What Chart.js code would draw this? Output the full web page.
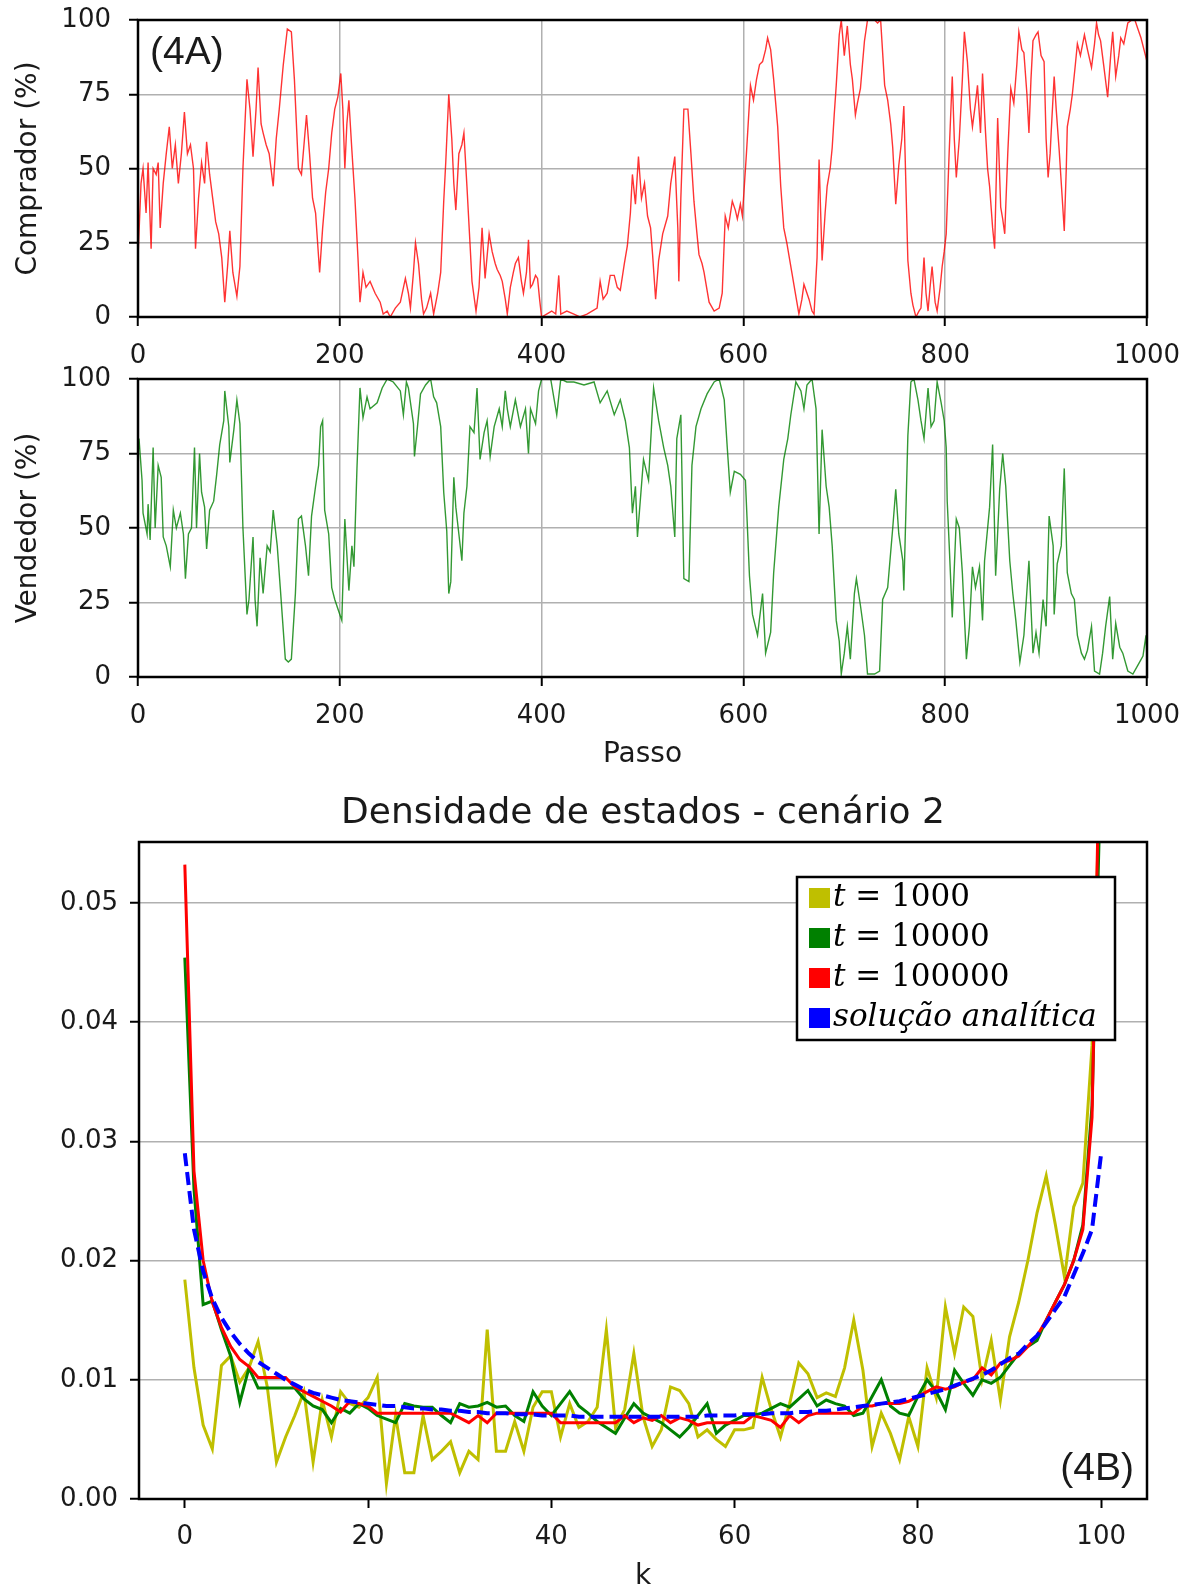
<!DOCTYPE html>
<html>
<head>
<meta charset="utf-8">
<script src="https://cdn.jsdelivr.net/npm/chart.js@4.4.0/dist/chart.umd.min.js"></script>
<style>
  body { margin: 0; background: #fff; width: 1192px; height: 1591px; position: relative; overflow: hidden; }
  canvas { position: absolute; left: 0; }
</style>
</head>
<body>
<canvas id="comprador" width="1192" height="370" style="top:0px"></canvas>
<canvas id="vendedor" width="1192" height="420" style="top:360px"></canvas>
<canvas id="densidade" width="1192" height="811" style="top:780px"></canvas>
<script>
// ---- dados ----
const passoTicks = [0, 200, 400, 600, 800, 1000];
const pctTicks = [0, 25, 50, 75, 100];
const kTicks = [0, 20, 40, 60, 80, 100];
const densTicks = [0, 0.01, 0.02, 0.03, 0.04, 0.05];

const compradorPasso = [0,3,5,8,10,13,15,18,20,22,25,28,31,34,37,40,43,46,49,52,55,57,60,63,66,68,71,74,77,80,83,86,89,91,94,98,101,104,108,111,114,117,119,122,124,127,130,134,137,140,144,148,152,155,159,162,165,167,170,173,176,178,180,183,186,189,192,195,198,201,203,205,207,209,212,215,218,220,223,226,230,235,240,243,247,250,255,260,265,268,270,273,275,278,281,283,286,290,293,297,300,303,305,308,311,313,315,318,321,323,326,329,331,335,338,341,344,348,351,354,356,359,361,364,366,369,372,374,377,380,382,385,387,389,391,394,396,398,400,405,410,414,417,419,425,432,438,445,450,455,458,461,465,468,472,475,478,482,485,488,490,493,496,499,502,505,508,510,513,516,520,525,528,532,535,536,538,541,545,548,551,554,556,559,561,566,571,576,579,582,585,589,592,594,597,599,603,607,610,613,616,619,622,624,627,630,634,637,640,643,645,648,650,653,655,658,660,663,665,668,670,673,675,678,681,683,686,688,690,692,695,697,700,703,706,708,711,713,716,718,720,723,727,730,733,736,740,743,746,748,751,754,757,759,761,763,766,768,771,774,776,779,781,783,785,787,790,792,795,797,799,801,804,807,809,811,814,817,819,822,825,827,830,832,835,837,840,842,844,847,849,852,855,857,859,862,865,868,871,873,876,878,881,883,885,887,890,892,895,898,900,902,904,905,908,910,913,916,918,920,921,924,926,929,931,934,938,941,945,948,950,952,954,957,961,964,966,969,972,974,977,981,985,988,991,994,997,1000];
const compradorPct = [20,45,50,35,52,23,50,48,52,30,45,55,64,50,58,45,55,69,55,58,50,23,40,52,45,59,48,40,32,28,20,5,18,29,15,7,17,50,80,70,54,70,84,65,62,58,55,44,60,70,85,97,96,80,50,48,60,68,55,40,35,25,15,30,42,50,62,70,74,82,70,50,65,73,56,40,20,5,15,10,12,8,5,1,2,0,3,5,13,8,3,15,25,18,6,1,3,8,1,8,15,39,52,75,60,45,36,55,58,62,44,25,12,2,10,30,13,28,22,18,16,14,12,6,1,10,15,18,20,12,8,15,26,10,11,14,13,6,0,1,2,1,14,1,2,1,0,1,2,3,12,6,8,14,14,10,9,18,24,35,48,38,54,40,45,34,30,21,6,19,28,34,45,54,30,12,40,70,70,55,39,28,21,18,15,5,2,3,8,34,30,39,36,33,38,34,55,78,73,80,85,86,90,94,90,80,64,44,30,25,21,15,11,5,1,6,11,8,6,2,1,20,53,19,35,44,50,57,68,78,95,100,88,98,85,80,68,72,77,85,93,100,100,100,99,100,78,73,65,57,38,51,60,71,45,19,8,4,0,2,3,20,8,2,10,17,5,2,10,17,22,28,56,81,60,47,60,80,96,86,70,64,72,78,62,82,62,50,44,30,23,67,37,33,28,55,77,72,85,96,90,89,75,62,80,93,95,96,88,86,60,47,55,62,81,70,56,40,29,50,64,70,75,85,92,88,95,90,84,92,99,95,93,85,74,88,96,81,88,94,92,99,100,100,97,94,90,86];

const vendedorPasso = [0,1,4,5,9,10,12,15,17,20,23,25,28,32,35,38,42,45,47,50,53,56,58,61,63,66,68,71,75,78,81,85,86,90,91,95,98,101,104,108,110,114,116,118,121,124,128,131,134,138,141,146,149,152,156,159,162,166,169,172,176,179,181,183,185,189,192,195,199,202,205,209,212,214,217,220,223,227,230,237,242,247,253,260,263,266,268,273,274,277,280,285,290,293,296,300,303,306,308,310,313,315,318,321,323,326,329,333,336,339,343,346,349,353,358,361,364,366,369,374,379,384,387,389,394,397,400,409,415,419,425,432,442,452,458,465,472,478,483,487,490,493,495,501,506,511,516,521,525,528,532,534,538,541,546,549,553,558,564,571,576,581,584,587,591,597,602,606,609,614,619,622,627,630,635,640,644,647,652,657,660,663,668,672,675,678,682,685,688,692,695,697,700,703,706,710,712,716,720,723,730,735,738,743,748,751,754,758,759,763,766,769,773,776,779,783,786,789,792,796,799,801,802,804,807,811,814,817,821,824,827,830,834,837,839,844,847,850,854,857,860,864,867,870,874,878,883,887,890,893,897,900,903,907,908,911,915,918,921,925,928,931,935,938,941,945,948,953,956,959,963,966,969,973,976,981,986,991,996,999,1000];
const vendedorPct = [75,80,66,55,48,58,46,77,50,71,67,47,44,37,56,50,55,48,33,48,50,77,50,75,62,57,43,56,59,68,78,86,96,84,72,83,93,85,50,21,26,47,26,17,40,28,44,42,56,44,30,6,5,6,28,53,54,44,34,54,64,71,84,86,56,48,30,26,22,19,53,29,44,37,70,97,87,94,90,92,97,100,99,96,88,99,97,85,74,84,95,98,100,94,92,84,62,49,28,32,67,57,48,39,55,64,84,82,97,73,82,86,74,84,90,84,96,90,84,93,84,90,75,90,85,96,100,100,88,100,99,99,98,99,92,96,88,93,86,77,55,64,47,73,66,97,86,77,71,64,47,80,88,33,32,71,84,90,95,99,100,93,77,62,69,68,66,34,21,14,28,8,15,35,57,73,80,88,99,96,90,98,100,90,48,83,64,57,44,19,12,1,8,17,6,28,33,24,14,1,1,2,26,30,50,63,48,39,29,81,99,100,93,86,80,97,84,86,99,92,86,77,59,44,20,53,50,35,6,17,37,30,37,19,39,57,78,34,63,75,64,39,28,19,5,14,39,8,15,8,26,17,54,44,21,38,44,70,35,28,26,14,8,6,9,17,2,1,8,17,27,6,18,10,8,2,1,4,7,14,6];

const kEstados = Array.from({ length: 101 }, (_, k) => k);
const densT1000 = [0.0184,0.0110,0.0062,0.0042,0.0112,0.0120,0.0098,0.0110,0.0132,0.0094,0.0031,0.0052,0.0070,0.0090,0.0031,0.0083,0.0052,0.0090,0.0080,0.0077,0.0085,0.0102,0.0013,0.0070,0.0022,0.0022,0.0070,0.0033,0.0040,0.0048,0.0022,0.0040,0.0033,0.0142,0.0040,0.0040,0.0065,0.0040,0.0077,0.0090,0.0090,0.0052,0.0080,0.0060,0.0065,0.0077,0.0142,0.0060,0.0075,0.0122,0.0069,0.0044,0.0058,0.0094,0.0091,0.0080,0.0052,0.0058,0.0050,0.0044,0.0058,0.0058,0.0060,0.0102,0.0075,0.0052,0.0080,0.0114,0.0105,0.0085,0.0089,0.0086,0.0110,0.0150,0.0108,0.0044,0.0072,0.0055,0.0033,0.0069,0.0044,0.0110,0.0085,0.0161,0.0122,0.0161,0.0153,0.0100,0.0133,0.0083,0.0136,0.0165,0.0200,0.0240,0.0271,0.0230,0.0186,0.0245,0.0265,0.0380,0.0640];
const densT10000 = [0.0454,0.0260,0.0163,0.0166,0.0142,0.0120,0.0081,0.0110,0.0093,0.0093,0.0093,0.0093,0.0093,0.0084,0.0078,0.0075,0.0064,0.0076,0.0072,0.0080,0.0076,0.0070,0.0067,0.0064,0.0080,0.0078,0.0077,0.0077,0.0070,0.0064,0.0080,0.0077,0.0078,0.0081,0.0077,0.0078,0.0070,0.0065,0.0090,0.0078,0.0070,0.0080,0.0090,0.0078,0.0072,0.0065,0.0060,0.0055,0.0068,0.0080,0.0072,0.0068,0.0064,0.0058,0.0052,0.0060,0.0070,0.0080,0.0055,0.0062,0.0066,0.0070,0.0070,0.0072,0.0076,0.0080,0.0077,0.0084,0.0091,0.0078,0.0083,0.0080,0.0078,0.0070,0.0072,0.0086,0.0100,0.0078,0.0072,0.0070,0.0086,0.0100,0.0090,0.0075,0.0108,0.0097,0.0087,0.0100,0.0097,0.0102,0.0112,0.0122,0.0128,0.0133,0.0150,0.0165,0.0180,0.0200,0.0230,0.0330,0.0620];
const densT100000 = [0.0532,0.0275,0.0200,0.0165,0.0144,0.0128,0.0117,0.0111,0.0102,0.0102,0.0102,0.0102,0.0094,0.0090,0.0086,0.0082,0.0078,0.0073,0.0082,0.0080,0.0078,0.0072,0.0072,0.0072,0.0072,0.0072,0.0072,0.0072,0.0072,0.0072,0.0068,0.0064,0.0070,0.0064,0.0072,0.0072,0.0072,0.0072,0.0072,0.0072,0.0072,0.0064,0.0064,0.0064,0.0064,0.0064,0.0064,0.0064,0.0070,0.0064,0.0068,0.0066,0.0070,0.0064,0.0068,0.0066,0.0062,0.0064,0.0064,0.0064,0.0064,0.0064,0.0070,0.0068,0.0066,0.0060,0.0070,0.0064,0.0070,0.0072,0.0072,0.0072,0.0072,0.0072,0.0078,0.0078,0.0080,0.0080,0.0080,0.0082,0.0086,0.0090,0.0094,0.0092,0.0094,0.0098,0.0100,0.0110,0.0104,0.0114,0.0116,0.0120,0.0128,0.0137,0.0150,0.0165,0.0180,0.0200,0.0226,0.0320,0.0700];
const densAnalitica = [0.0290,0.0226,0.0191,0.0168,0.0152,0.0140,0.0130,0.0122,0.0115,0.0110,0.0105,0.0100,0.0096,0.0092,0.0089,0.0087,0.0085,0.0083,0.0082,0.0081,0.0080,0.0079,0.0078,0.0078,0.0077,0.0076,0.0076,0.0075,0.0075,0.0074,0.0074,0.0073,0.0073,0.0072,0.0072,0.0072,0.0071,0.0071,0.0071,0.0070,0.0070,0.0070,0.0070,0.0069,0.0069,0.0069,0.0069,0.0069,0.0069,0.0069,0.0069,0.0069,0.0069,0.0069,0.0069,0.0069,0.0069,0.0070,0.0070,0.0070,0.0070,0.0071,0.0071,0.0071,0.0072,0.0072,0.0072,0.0073,0.0073,0.0074,0.0074,0.0075,0.0076,0.0077,0.0078,0.0079,0.0080,0.0081,0.0082,0.0084,0.0086,0.0088,0.0090,0.0092,0.0095,0.0098,0.0101,0.0104,0.0108,0.0113,0.0118,0.0122,0.0130,0.0137,0.0148,0.0159,0.0170,0.0188,0.0206,0.0226,0.0290];

// ---- estilos ----
const TXT = '#1a1a1a';
const GRADE = '#b0b0b0';
const fonteTick = { family: 'DejaVu Sans', size: 26 };
const fonteEixo = { family: 'DejaVu Sans', size: 28 };

function pares(xs, ys) { return xs.map((x, i) => ({ x, y: ys[i] })); }

// os rótulos das escalas não devem empurrar a área do gráfico
function semFolga(s) { s.paddingTop = 0; s.paddingBottom = 0; s.paddingLeft = 0; s.paddingRight = 0; }

// moldura preta nos quatro lados + rótulo (4A)/(4B) + título centrado na área
const moldura = {
  id: 'moldura',
  afterDatasetsDraw(chart, args, opts) {
    const { ctx, chartArea: a } = chart;
    ctx.save();
    ctx.strokeStyle = '#000';
    ctx.lineWidth = 2.5;
    ctx.strokeRect(a.left, a.top, a.right - a.left, a.bottom - a.top);
    ctx.fillStyle = TXT;
    ctx.textBaseline = 'middle';
    if (opts.rotulo) {
      ctx.font = '39px "Liberation Sans"';
      ctx.textAlign = opts.alinhar;
      const x = opts.alinhar === 'left' ? a.left + opts.dx : a.right + opts.dx;
      const y = opts.deBaixo ? a.bottom + opts.dy : a.top + opts.dy;
      ctx.fillText(opts.rotulo, x, y);
    }
    if (opts.titulo) {
      ctx.font = '36px "DejaVu Sans"';
      ctx.textAlign = 'center';
      ctx.fillText(opts.titulo, (a.left + a.right) / 2, a.top - 28);
    }
    ctx.restore();
  }
};

// legenda com quadrados, dentro do gráfico
const legendaCaixa = {
  id: 'legendaCaixa',
  afterDatasetsDraw(chart, args, opts) {
    if (!opts.mostrar) return;
    const { ctx, chartArea: a } = chart;
    const left = a.right - 32 - 318, top = a.top + 35;
    ctx.save();
    ctx.fillStyle = '#fff';
    ctx.fillRect(left, top, 318, 163);
    ctx.strokeStyle = '#000';
    ctx.lineWidth = 2.5;
    ctx.strokeRect(left, top, 318, 163);
    ctx.textBaseline = 'middle';
    ctx.textAlign = 'left';
    chart.data.datasets.forEach((ds, i) => {
      const cy = top + 21 + i * 40;
      ctx.fillStyle = ds.borderColor;
      ctx.fillRect(left + 12, cy - 10, 21, 20);
      ctx.fillStyle = '#000';
      let x = left + 36;
      if (ds.label.startsWith('t ')) {
        ctx.font = 'italic 31px "DejaVu Serif"';
        ctx.fillText('t', x, cy);
        x += ctx.measureText('t').width;
        ctx.font = '31px "DejaVu Serif"';
        ctx.fillText(ds.label.slice(1), x, cy);
      } else {
        ctx.font = 'italic 31px "DejaVu Serif"';
        ctx.fillText(ds.label, x, cy);
      }
    });
    ctx.restore();
  }
};

function graficoPasso(id, passo, pct, cor, tituloY, alturaX, mostrarPasso, rotulo) {
  return new Chart(document.getElementById(id), {
    type: 'line',
    data: {
      datasets: [{ data: pares(passo, pct), borderColor: cor, borderWidth: 1.4, pointRadius: 0, tension: 0 }]
    },
    options: {
      responsive: false,
      animation: false,
      layout: { padding: { top: id === 'comprador' ? 20 : 19, right: 45, left: 0, bottom: 0 } },
      plugins: {
        legend: { display: false },
        tooltip: { enabled: false },
        moldura: rotulo ? { rotulo, alinhar: 'left', dx: 12, dy: 33 } : {}
      },
      scales: {
        x: {
          type: 'linear', min: 0, max: 1000,
          afterBuildTicks: (s) => { s.ticks = passoTicks.map((v) => ({ value: v })); },
          afterFit: (s) => { s.height = alturaX; semFolga(s); },
          border: { display: false },
          grid: { color: GRADE, lineWidth: 1.5, tickColor: '#000', tickWidth: 2, tickLength: 9 },
          ticks: { font: fonteTick, color: TXT, padding: 15, maxRotation: 0, autoSkip: false, callback: (v) => String(v) },
          title: { display: mostrarPasso, text: 'Passo', font: fonteEixo, color: TXT, padding: { top: 0, bottom: 8 } }
        },
        y: {
          min: 0, max: 100,
          afterBuildTicks: (s) => { s.ticks = pctTicks.map((v) => ({ value: v })); },
          afterFit: (s) => { s.width = 138; semFolga(s); },
          border: { display: false },
          grid: { color: GRADE, lineWidth: 1.5, tickColor: '#000', tickWidth: 2, tickLength: 9 },
          ticks: { font: fonteTick, color: TXT, padding: 18, callback: (v) => String(v) },
          title: { display: true, text: tituloY, font: fonteEixo, color: TXT, padding: { top: 12, bottom: 0 } }
        }
      }
    },
    plugins: [moldura]
  });
}

graficoPasso('comprador', compradorPasso, compradorPct, 'rgba(255,0,0,0.8)', 'Comprador (%)', 53, false, '(4A)');
graficoPasso('vendedor', vendedorPasso, vendedorPct, 'rgba(0,128,0,0.8)', 'Vendedor (%)', 103, true, null);

new Chart(document.getElementById('densidade'), {
  type: 'line',
  data: {
    datasets: [
      { label: 't = 1000', data: pares(kEstados, densT1000), borderColor: '#bfbf00', borderWidth: 3, pointRadius: 0, tension: 0, order: 4 },
      { label: 't = 10000', data: pares(kEstados, densT10000), borderColor: '#008000', borderWidth: 3, pointRadius: 0, tension: 0, order: 3 },
      { label: 't = 100000', data: pares(kEstados, densT100000), borderColor: '#ff0000', borderWidth: 3, pointRadius: 0, tension: 0, order: 2 },
      { label: 'solução analítica', data: pares(kEstados, densAnalitica), borderColor: '#0000ff', borderWidth: 4, borderDash: [13, 6], pointRadius: 0, tension: 0, order: 1 }
    ]
  },
  options: {
    responsive: false,
    animation: false,
    layout: { padding: { top: 62, right: 45, left: 0, bottom: 0 } },
    plugins: {
      legend: { display: false },
      tooltip: { enabled: false },
      moldura: { rotulo: '(4B)', alinhar: 'right', dx: -13, dy: -30, deBaixo: true, titulo: 'Densidade de estados - cenário 2' },
      legendaCaixa: { mostrar: true }
    },
    scales: {
      x: {
        type: 'linear', min: -5, max: 105,
        afterBuildTicks: (s) => { s.ticks = kTicks.map((v) => ({ value: v })); },
        afterFit: (s) => { s.height = 92; semFolga(s); },
        border: { display: false },
        grid: { drawOnChartArea: false, tickColor: '#000', tickWidth: 2, tickLength: 9 },
        ticks: { font: fonteTick, color: TXT, padding: 14, maxRotation: 0, autoSkip: false, callback: (v) => String(v) },
        title: { display: true, text: 'k', font: { family: 'DejaVu Sans', size: 28, lineHeight: 1 }, color: TXT, padding: { top: 0, bottom: 0 } }
      },
      y: {
        min: 0, max: 0.0551,
        afterBuildTicks: (s) => { s.ticks = densTicks.map((v) => ({ value: v })); },
        afterFit: (s) => { s.width = 139; semFolga(s); },
        border: { display: false },
        grid: { color: GRADE, lineWidth: 1.5, tickColor: '#000', tickWidth: 2, tickLength: 9 },
        ticks: { font: fonteTick, color: TXT, padding: 12, callback: (v) => v.toFixed(2) }
      }
    }
  },
  plugins: [moldura, legendaCaixa]
});
</script>
</body>
</html>
